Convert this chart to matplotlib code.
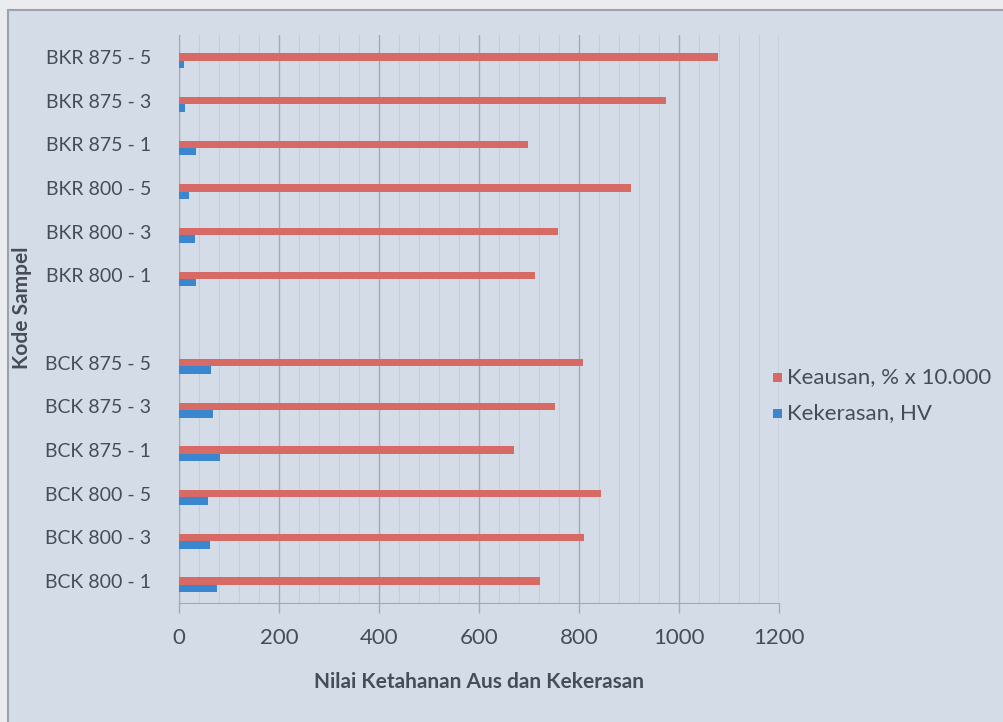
import matplotlib
matplotlib.use("Agg")
import matplotlib.pyplot as plt
from matplotlib.patches import Rectangle
from matplotlib.ticker import MultipleLocator

plt.rcParams['font.family'] = ['Lato', 'DejaVu Sans']

# Sample codes, bottom to top (blank slot separates the BCK and BKR groups)
samples = ["BCK 800 - 1", "BCK 800 - 3", "BCK 800 - 5",
           "BCK 875 - 1", "BCK 875 - 3", "BCK 875 - 5",
           "",
           "BKR 800 - 1", "BKR 800 - 3", "BKR 800 - 5",
           "BKR 875 - 1", "BKR 875 - 3", "BKR 875 - 5"]

# Wear value, % x 10.000
keausan = [721, 810, 843, 670, 752, 808,
           None,
           711, 758, 903, 697, 973, 1079]

# Hardness, HV
kekerasan = [75, 62, 57, 82, 67, 64,
             None,
             33, 31, 19, 33, 12, 9]

x_ticks = [0, 200, 400, 600, 800, 1000, 1200]

red = "#d76a64"
blue = "#3a86cf"
text_col = "#474d57"
bg = "#d4dce7"
fs = 16

fig = plt.figure(figsize=(10.04, 7.22), dpi=100)
fig.patch.set_facecolor("#eaecef")

# chart area panel with border, kept behind the axes
panel = Rectangle((8 / 1004, -0.05), 1.1, 1 - 10 / 722 + 0.05,
                  transform=fig.transFigure, facecolor=bg,
                  edgecolor="#9ea3aa", linewidth=1.5, zorder=-10)
fig.patches.append(panel)

ax = fig.add_axes([179 / 1004, 1 - 603 / 722, 600 / 1004, 568 / 722])
ax.set_zorder(1)
ax.set_facecolor(bg)

h = 0.17
for i, (r, b) in enumerate(zip(keausan, kekerasan)):
    if r is not None:
        ax.barh(i, r, height=h, color=red, zorder=3)
    if b is not None:
        ax.barh(i - h, b, height=h, color=blue, zorder=3)

ax.set_xlim(x_ticks[0], x_ticks[-1])
ax.set_ylim(-0.5, len(samples) - 0.5)
ax.set_xticks(x_ticks)
ax.set_xticklabels([str(v) for v in x_ticks])
ax.xaxis.set_minor_locator(MultipleLocator(40))
ax.set_yticks(range(len(samples)))
ax.set_yticklabels(samples)

ax.grid(axis="x", which="major", color="#a2aab5", linewidth=1.0, zorder=1)
ax.grid(axis="x", which="minor", color="#c5cdd8", linewidth=0.8, zorder=1)
ax.tick_params(axis="x", which="major", length=7, width=1, color="#a2aab5",
               labelsize=fs, labelcolor=text_col, pad=11)
ax.tick_params(axis="x", which="minor", length=0)
ax.tick_params(axis="y", length=0, labelsize=14, labelcolor=text_col, pad=20)

for side in ("top", "right"):
    ax.spines[side].set_visible(False)
ax.spines["left"].set_color("#a2aab5")
ax.spines["bottom"].set_color("#a2aab5")

ax.set_xlabel("Nilai Ketahanan Aus dan Kekerasan", fontsize=15,
              fontweight="bold", color=text_col, labelpad=17)
fig.text(22 / 1004, 1 - 308 / 722, "Kode Sampel", rotation=90, fontsize=15,
         fontweight="bold", color=text_col, ha="center", va="center")

# legend
leg_items = [("Keausan, % x 10.000", red, 377), ("Kekerasan, HV", blue, 413)]
for label, col, y in leg_items:
    fig.patches.append(Rectangle((773 / 1004, 1 - (y + 4.5) / 722), 9 / 1004, 9 / 722,
                                 transform=fig.transFigure, facecolor=col,
                                 edgecolor="none"))
    fig.text(787 / 1004, 1 - y / 722, label, fontsize=fs, color=text_col,
             ha="left", va="center")

fig.savefig("out.png", dpi=100, facecolor=fig.get_facecolor())
